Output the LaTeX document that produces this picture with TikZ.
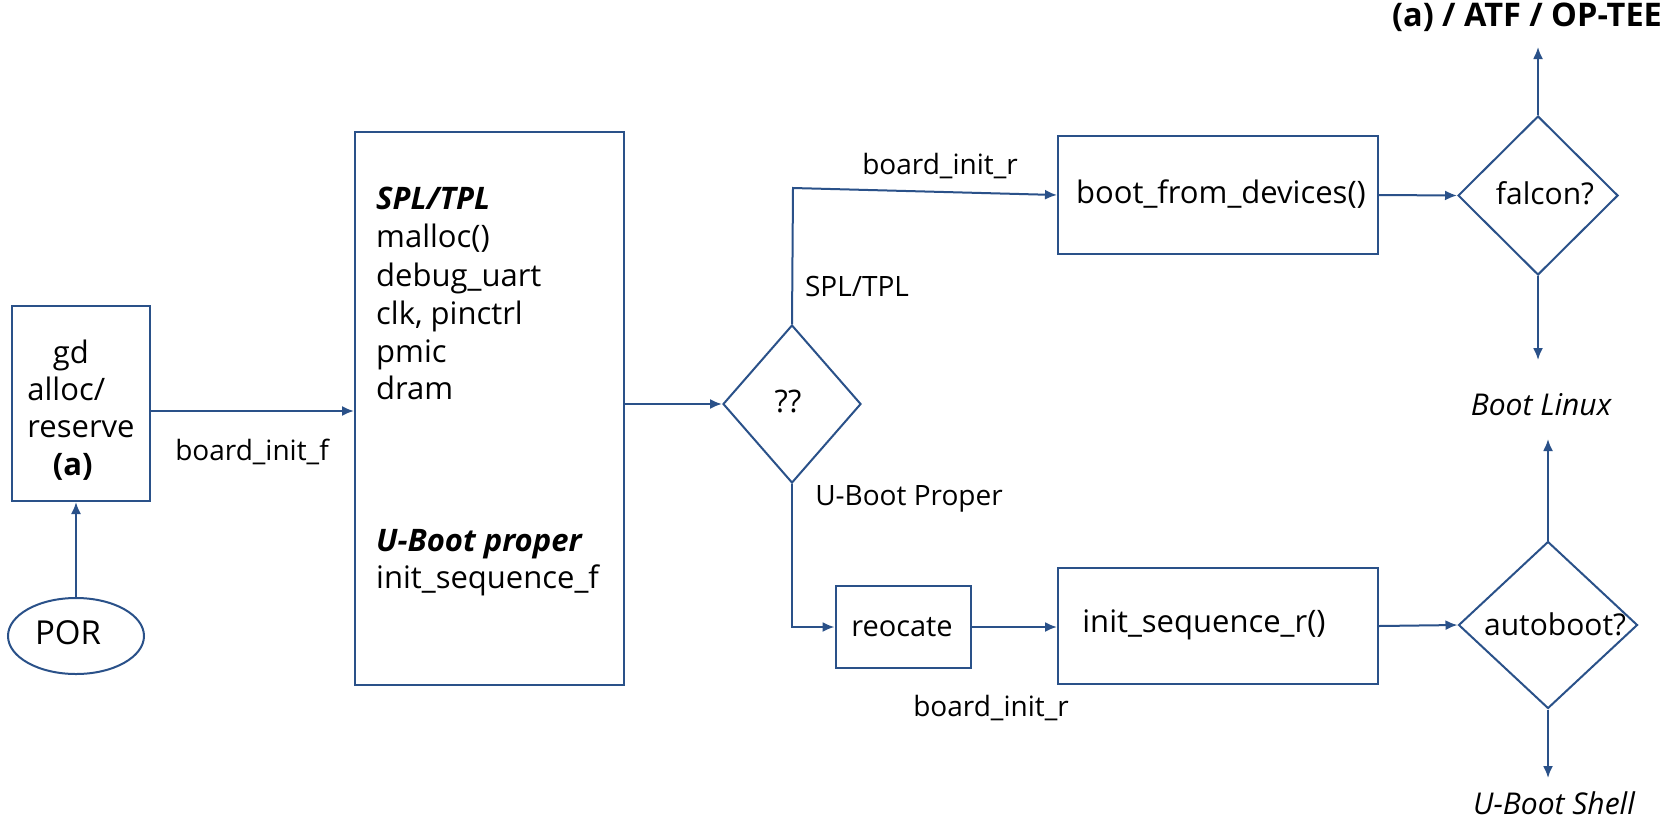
\documentclass[tikz,border=0pt]{standalone}
\usepackage{fontspec}
\setmainfont{Open Sans}
\usetikzlibrary{arrows.meta,shapes.geometric,calc}
\definecolor{ln}{RGB}{42,81,137}
\begin{document}
\begin{tikzpicture}[x=1pt,y=-1pt,
  box/.style={draw=ln, line width=2pt, rectangle, inner sep=0pt},
  dia/.style={draw=ln, line width=2pt, diamond, inner sep=0pt},
  oval/.style={draw=ln, line width=2pt, ellipse, inner sep=0pt},
  arr/.style={draw=ln, line width=2pt, -{Latex[length=12pt,width=10pt]}},
  txt/.style={font=\fontsize{31}{38}\selectfont, inner sep=0pt, text height=0.72em, text depth=0.22em},
  lbl/.style={font=\fontsize{28}{34}\selectfont, inner sep=0pt, text height=0.72em, text depth=0.22em},
  line/.style={anchor=west, txt}]
\useasboundingbox[fill=white] (0,0) rectangle (1678,820);

% shapes
\node[box, minimum width=138pt, minimum height=195pt] (gd) at (81,403.5) {};
\node[inner sep=0pt, align=left, font=\fontsize{31}{37.3}\selectfont] (gdtext) at (81,410)
  {\hspace*{0.82em}gd\\alloc/\\reserve\\\hspace*{0.82em}\textbf{(a)}};
\node[oval, minimum width=136pt, minimum height=76pt] (por) at (76,636) {};
\node[txt, font=\fontsize{33}{38}\selectfont] (portext) at (68,642) {POR};

\node[box, minimum width=269pt, minimum height=553pt] (sb) at (489.5,408.5) {};
\node[line] (l1) at (376,207) {\textbf{\textit{SPL/TPL}}};
\node[line] (l2) at (376,245) {malloc()};
\node[line] (l3) at (376,284) {debug\_uart};
\node[line] (l4) at (376,322) {clk, pinctrl};
\node[line] (l5) at (376,360) {pmic};
\node[line] (l6) at (376,397) {dram};
\node[line] (l7) at (376,549) {\textbf{\textit{U-Boot proper}}};
\node[line] (l8) at (376,586) {init\_sequence\_f};

\node[dia, minimum width=138pt, minimum height=158pt] (q) at (792,404) {};
\node[txt] (qtext) at (788,410) {??};

\node[box, minimum width=320pt, minimum height=118pt] (boot) at (1218,195) {};
\node[txt] (boottext) at (1221,201) {boot\_from\_devices()};
\node[dia, minimum width=160pt, minimum height=159pt] (falcon) at (1538,195.5) {};
\node[txt, font=\fontsize{30}{36}\selectfont] (falcontext) at (1545,202) {falcon?};

\node[box, minimum width=135pt, minimum height=82pt] (reo) at (903,627) {};
\node[txt, font=\fontsize{29}{36}\selectfont] (reotext) at (902,634) {reocate};
\node[box, minimum width=320pt, minimum height=116pt] (init) at (1218,626) {};
\node[txt] (inittext) at (1204,630) {init\_sequence\_r()};
\node[dia, minimum width=179pt, minimum height=167pt] (auto) at (1548,625) {};
\node[txt, font=\fontsize{30}{36}\selectfont] (autotext) at (1555,633) {autoboot?};

% labels
\node[txt, font=\fontsize{32.5}{38}\bfseries\selectfont] (atf) at (1527,24) {(a) / ATF / OP-TEE};
\node[txt, font=\fontsize{30}{36}\itshape\selectfont] (linux) at (1541,413) {Boot Linux};
\node[txt, font=\fontsize{30}{36}\itshape\selectfont] (shell) at (1554,812) {U-Boot Shell};
\node[lbl] (bif) at (252,458) {board\_init\_f};
\node[lbl] (bir1) at (940,172) {board\_init\_r};
\node[lbl] (bir2) at (991,714) {board\_init\_r};
\node[lbl] (spl) at (857,294) {SPL/TPL};
\node[lbl] (ubp) at (909,503) {U-Boot Proper};

% free ends and bends
\coordinate (gdo) at ($(gd.east)+(0,7.5)$);
\coordinate (qtop) at (793,188);
\coordinate (atfend) at (1538,47);
\coordinate (linuxend1) at (1538,360);
\coordinate (linuxend2) at (1548,439);
\coordinate (shellend) at (1548,778);

% connectors
\draw[arr] (por.north) -- (por.north |- gd.south);
\draw[arr] (gdo) -- (gdo -| sb.west);
\draw[arr] (sb.east |- q.west) -- (q.west);
\draw[arr] (q.north) -- (qtop) -- (boot.west);
\draw[arr] (q.south) |- (reo.west);
\draw[arr] (reo.east) -- (reo.east -| init.west);
\draw[arr] (boot.east) -- (falcon.west);
\draw[arr] (init.east) -- (auto.west);
\draw[arr] (falcon.north) -- (atfend);
\draw[arr] (falcon.south) -- (linuxend1);
\draw[arr] (auto.north) -- (linuxend2);
\draw[arr] (auto.south) -- (shellend);
\end{tikzpicture}
\end{document}
